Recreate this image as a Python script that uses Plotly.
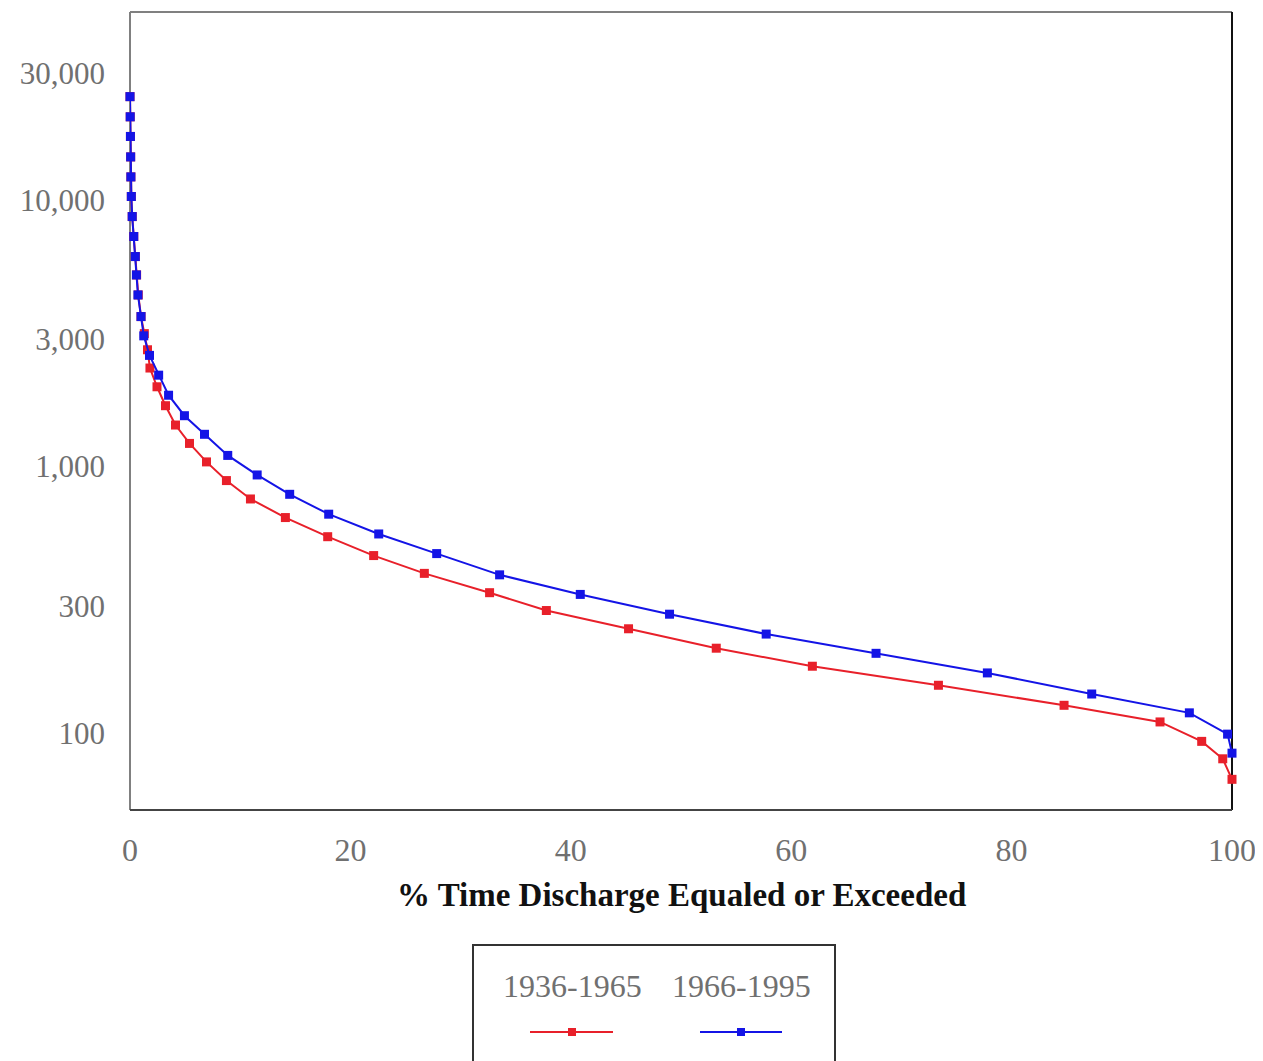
import plotly.graph_objects as go

# ---- data ----
pct_1936_1965 = [0.0, 0.02, 0.04, 0.06, 0.08, 0.12, 0.2, 0.34, 0.48, 0.6, 0.75, 1.0, 1.3,
                 1.59, 1.81, 2.45, 3.22, 4.13, 5.4, 6.94, 8.75, 10.93, 14.1, 17.94, 22.11,
                 26.71, 32.63, 37.78, 45.24, 53.2, 61.92, 73.36, 84.76, 93.47, 97.25, 99.16, 100]
q_1936_1965 = [24400, 20500, 17300, 14500, 12200, 10300, 8660, 7290, 6130, 5230, 4400, 3650, 3150,
               2740, 2340, 1990, 1690, 1430, 1220, 1040, 885, 755, 643, 545, 463,
               397, 336, 288, 246, 208, 178, 151, 127, 110, 93, 80, 67]

pct_1966_1995 = [0.0, 0.02, 0.04, 0.06, 0.08, 0.12, 0.2, 0.34, 0.48, 0.58, 0.72, 1.0, 1.25,
                 1.77, 2.6, 3.5, 4.94, 6.76, 8.87, 11.54, 14.49, 18.03, 22.57, 27.83, 33.54,
                 40.86, 48.96, 57.73, 67.7, 77.8, 87.27, 96.13, 99.6, 100]
q_1966_1995 = [24400, 20500, 17300, 14500, 12200, 10300, 8660, 7290, 6130, 5230, 4400, 3650, 3090,
               2610, 2200, 1850, 1550, 1320, 1100, 929, 786, 662, 558, 471, 392,
               331, 279, 235, 199, 168, 140, 119, 99, 84]

series_names = ["1936-1965", "1966-1995"]
series_colors = ["#e8202a", "#1414e6"]

x_ticks = [0, 20, 40, 60, 80, 100]
y_ticks = [100, 300, 1000, 3000, 10000, 30000]
y_tick_labels = ["100", "300", "1,000", "3,000", "10,000", "30,000"]

SERIF = "Liberation Serif"

fig = go.Figure()
for xs, ys, name, col in [(pct_1936_1965, q_1936_1965, series_names[0], series_colors[0]),
                          (pct_1966_1995, q_1966_1995, series_names[1], series_colors[1])]:
    fig.add_trace(go.Scatter(
        x=xs, y=ys, name=name, mode="lines+markers",
        line=dict(color=col, width=2),
        marker=dict(symbol="square", size=9, color=col),
        cliponaxis=False, showlegend=False))

# page body has an 8px margin, compensate so the plot area lands at x 130-1232, y 12-810
fig.update_layout(
    width=1263, height=1061,
    margin=dict(l=122, r=39, t=4, b=259),
    paper_bgcolor="white", plot_bgcolor="white",
    xaxis=dict(range=[0, 100], tickvals=x_ticks, showgrid=False, zeroline=False,
               showline=False, ticks="", ticklabelstandoff=18,
               tickfont=dict(family=SERIF, size=32, color="#707070")),
    yaxis=dict(type="log", range=[1.711, 4.705], tickvals=y_ticks, ticktext=y_tick_labels,
               showgrid=False, zeroline=False, showline=False, ticks="",
               ticklabelstandoff=24,
               tickfont=dict(family=SERIF, size=31, color="#707070")),
)

# plot frame
frame = [
    (0, 0, 0, 1, "#808080"),   # left
    (0, 1, 1, 1, "#808080"),   # top
    (1, 0, 1, 1, "#111111"),   # right
    (0, 0, 1, 0, "#444444"),   # bottom
]
for x0, y0, x1, y1, c in frame:
    fig.add_shape(type="line", xref="paper", yref="paper", x0=x0, y0=y0, x1=x1, y1=y1,
                  line=dict(color=c, width=2), layer="below")

# x-axis title
fig.add_annotation(text="<b>% Time Discharge Equaled or Exceeded</b>", xref="paper", yref="paper",
                   x=0.5, y=-0.1065, showarrow=False, yanchor="middle",
                   font=dict(family=SERIF, size=33, color="#111111"))

# custom legend (text above line sample)
def px_x(p):
    return (p - 130) / 1102.0

def px_y(p):
    return (810 - p) / 798.0

fig.add_shape(type="rect", xref="paper", yref="paper",
              x0=px_x(473), x1=px_x(835), y0=px_y(945), y1=px_y(1080),
              line=dict(color="#333333", width=2), fillcolor="white")
leg = [(series_names[0], series_colors[0], 572, 530, 613),
       (series_names[1], series_colors[1], 741, 700, 782)]
for name, col, cx, lx0, lx1 in leg:
    fig.add_annotation(text=name, xref="paper", yref="paper", x=px_x(cx), y=px_y(986),
                       showarrow=False, xanchor="center", yanchor="middle",
                       font=dict(family=SERIF, size=32, color="#707070"))
    fig.add_shape(type="line", xref="paper", yref="paper", x0=px_x(lx0), x1=px_x(lx1),
                  y0=px_y(1032), y1=px_y(1032), line=dict(color=col, width=2))
    fig.add_shape(type="rect", xref="paper", yref="paper",
                  x0=px_x(cx - 4), x1=px_x(cx + 4), y0=px_y(1036), y1=px_y(1028),
                  line=dict(color=col, width=0), fillcolor=col)

fig.write_html("out.html")
